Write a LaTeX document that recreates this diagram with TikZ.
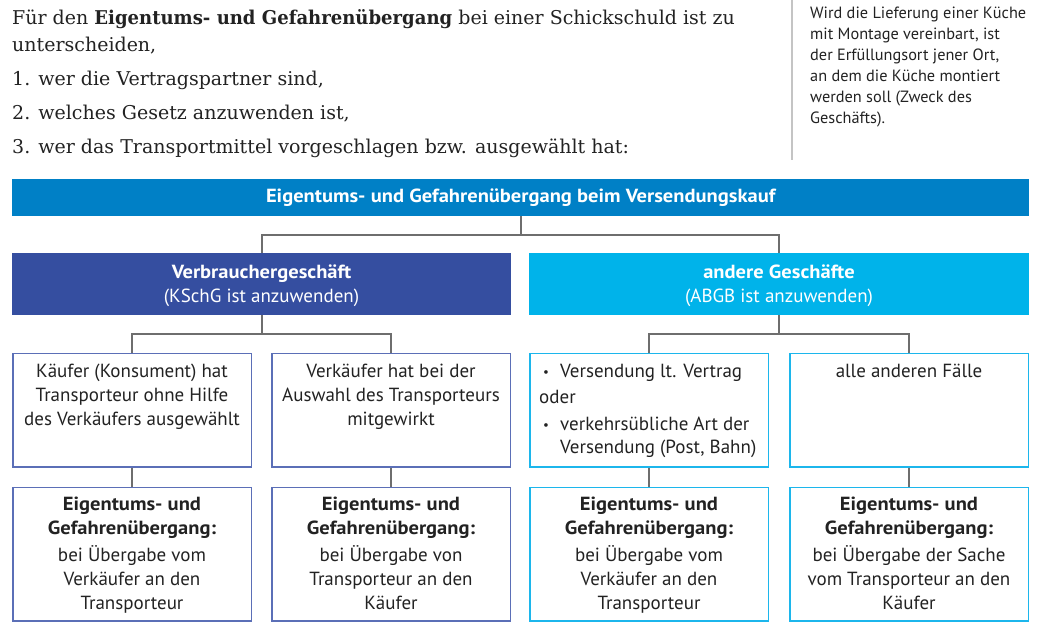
\documentclass[tikz,border=0pt]{standalone}
\usepackage{fontspec}
\setmainfont{DejaVu Serif}[BoldFeatures={FakeStretch=0.95}]
\setsansfont{PT Sans}[BoldFeatures={FakeStretch=1.08}]
\usetikzlibrary{positioning}
\definecolor{titelblau}{HTML}{0080C6}
\definecolor{verbrblau}{HTML}{354EA0}
\definecolor{andercyan}{HTML}{00B3EA}
\definecolor{verbrrand}{HTML}{5B6FB7}
\definecolor{anderrand}{HTML}{1CB6EC}
\definecolor{liniengrau}{HTML}{6E6E6E}
\definecolor{randgrau}{HTML}{C4C4C4}
\definecolor{textgrau}{HTML}{222222}
\newcommand{\kastenschrift}{\sffamily\fontsize{19}{24}\selectfont}
\newcommand{\einleitungschrift}{\rmfamily\fontsize{19}{27}\selectfont}
\newcommand{\notizschrift}{\sffamily\fontsize{16.3}{21}\selectfont}
\newcommand{\punkt}{\hspace*{4pt}\makebox[17pt][l]{\raisebox{1.5pt}{\fontsize{13}{13}\selectfont\textbullet}}}
\tikzset{
  verbinder/.style={draw=liniengrau, line width=2pt},
  kasten/.style={draw, line width=1.5pt, minimum width=238.5pt, anchor=north, inner sep=0pt},
  frage/.style={kasten, minimum height=113.5pt},
  ergebnis/.style={kasten, minimum height=133.5pt},
  kastentext/.style={inner sep=0pt, align=center, text=textgrau, font=\kastenschrift},
  kopf/.style={minimum height=62pt, anchor=north, inner sep=0pt, align=center, text=white, font=\kastenschrift},
}
\begin{document}
\begin{tikzpicture}[x=1pt, y=-1pt]
  \useasboundingbox (0,0) rectangle (1059,639);

  \node[anchor=north west, inner sep=0pt, align=left, text=textgrau, font=\einleitungschrift] (einleitung) at (12,5)
    {\strut Für den \textbf{Eigentums- und Gefahrenübergang} bei einer Schickschuld ist zu\\
     unterscheiden,\\[7pt]
     1. wer die Vertragspartner sind,\\[7pt]
     2. welches Gesetz anzuwenden ist,\\[7pt]
     3. wer das Transportmittel vorgeschlagen bzw. ausgewählt hat:};
  \draw[randgrau, line width=1.5pt] (792,0) -- (792,160);
  \node[anchor=north west, inner sep=0pt, align=left, text=textgrau, font=\notizschrift] (notiz) at (810,3.3)
    {\strut Wird die Lieferung einer Küche\\ mit Montage vereinbart, ist\\ der Erfüllungsort jener Ort,\\
     an dem die Küche montiert\\ werden soll (Zweck des\\ Geschäfts).};

  \node[fill=titelblau, minimum width=1017pt, minimum height=37pt, anchor=north west, inner sep=0pt,
        text=white, font=\kastenschrift\bfseries] (titel) at (12,179)
    {Eigentums- und Gefahrenübergang beim Versendungskauf};

  \node[kopf, fill=verbrblau, minimum width=499pt] (verbr) at (261.5,253)
    {\strut\textbf{Verbrauchergeschäft}\\(KSchG ist anzuwenden)};
  \node[kopf, fill=andercyan, minimum width=500pt] (ander) at (779,253)
    {\strut\textbf{andere Geschäfte}\\(ABGB ist anzuwenden)};

  \node[frage, draw=verbrrand] (k1) at (132,352.75) {};
  \node[frage, draw=verbrrand] (k2) at (391,352.75) {};
  \node[frage, draw=anderrand] (k3) at (649,352.75) {};
  \node[frage, draw=anderrand] (k4) at (909,352.75) {};
  \node[ergebnis, draw=verbrrand] (e1) at (132,486.75) {};
  \node[ergebnis, draw=verbrrand] (e2) at (391,486.75) {};
  \node[ergebnis, draw=anderrand] (e3) at (649,486.75) {};
  \node[ergebnis, draw=anderrand] (e4) at (909,486.75) {};

  \node[kastentext, below=8pt of k1.north] (k1text)
    {\strut Käufer (Konsument) hat\\ Transporteur ohne Hilfe\\ des Verkäufers ausgewählt};
  \node[kastentext, below=8pt of k2.north] (k2text)
    {\strut Verkäufer hat bei der\\ Auswahl des Transporteurs\\ mitgewirkt};
  \node[kastentext, align=left, below right=8pt and 10pt of k3.north west] (k3text)
    {\strut\punkt Versendung lt. Vertrag\\[2pt] oder\\[3pt] \punkt verkehrsübliche Art der\\[-1pt]
     \hspace*{21pt}Versendung (Post, Bahn)};
  \node[kastentext, below=8pt of k4.north] (k4text) {\strut alle anderen Fälle};

  \node[kastentext, below=7pt of e1.north] (e1text)
    {\strut\textbf{Eigentums- und}\\ \textbf{Gefahrenübergang:}\\[3pt] bei Übergabe vom\\ Verkäufer an den\\ Transporteur};
  \node[kastentext, below=7pt of e2.north] (e2text)
    {\strut\textbf{Eigentums- und}\\ \textbf{Gefahrenübergang:}\\[3pt] bei Übergabe von\\ Transporteur an den\\ Käufer};
  \node[kastentext, below=7pt of e3.north] (e3text)
    {\strut\textbf{Eigentums- und}\\ \textbf{Gefahrenübergang:}\\[3pt] bei Übergabe vom\\ Verkäufer an den\\ Transporteur};
  \node[kastentext, below=7pt of e4.north] (e4text)
    {\strut\textbf{Eigentums- und}\\ \textbf{Gefahrenübergang:}\\[3pt] bei Übergabe der Sache\\ vom Transporteur an den\\ Käufer};

  \draw[verbinder] (titel.south) -- ++(0,19);
  \draw[verbinder] (verbr.north) -- ++(0,-18) -| (ander.north);
  \draw[verbinder] (verbr.south) -- ++(0,18);
  \draw[verbinder] (k1.north) -- ++(0,-19) -| (k2.north);
  \draw[verbinder] (ander.south) -- ++(0,18);
  \draw[verbinder] (k3.north) -- ++(0,-19) -| (k4.north);
  \foreach \i in {1,...,4} \draw[verbinder] (k\i.south) -- (e\i.north);
\end{tikzpicture}
\end{document}
